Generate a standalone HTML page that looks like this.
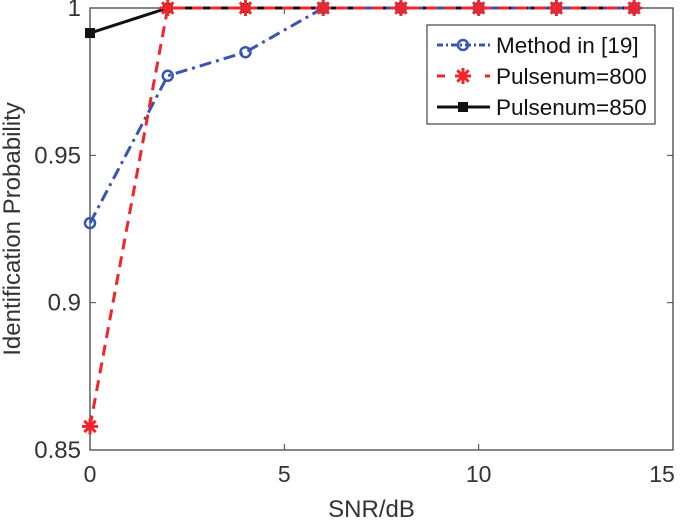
<!DOCTYPE html>
<html><head><meta charset="utf-8"><style>
body{margin:0;background:#fff;}
svg text{font-family:"Liberation Sans",sans-serif;}
</style></head><body>
<svg id="chart" width="685" height="524" xmlns="http://www.w3.org/2000/svg">
<rect x="0" y="0" width="685" height="524" fill="#fff"/>
<g id="plot"></g>
</svg>
<script>
const xs=[0,2,4,6,8,10,12,14];
const method19=[0.927,0.977,0.985,1,1,1,1,1];
const pulse800=[0.858,1,1,1,1,1,1,1];
const pulse850=[0.9915,1,1,1,1,1,1,1];
const xTicks=[0,5,10,15];
const yTicks=[0.85,0.9,0.95,1];
const yTickLabels=["0.85","0.9","0.95","1"];
const L=90,R=673,T=8,B=450;
const sx=v=>L+(v-0)/(15-0)*(R-L);
const sy=v=>B-(v-0.85)/(1-0.85)*(B-T);
const NS="http://www.w3.org/2000/svg";
const g=document.getElementById('plot');
function mk(t,a,p){const e=document.createElementNS(NS,t);for(const k in a)e.setAttribute(k,a[k]);(p||g).appendChild(e);return e;}
const box=mk('rect',{x:L,y:T,width:R-L,height:B-T,fill:'none',stroke:'#444','stroke-width':1.3});


xTicks.forEach(v=>{
 const l=mk('line',{x1:sx(v),x2:sx(v),y1:B,y2:B-6,stroke:'#444'});
 
 
 const l2=mk('line',{x1:sx(v),x2:sx(v),y1:T,y2:T+6,stroke:'#444'});
 
 
 const t=mk('text',{x:sx(v)-(v==15?11:0),y:B+32,'text-anchor':'middle','font-size':23,fill:'#333'});
 t.textContent=v;
 
 
});
yTicks.forEach((v,i)=>{
 const l=mk('line',{x1:L,x2:L+6,y1:sy(v),y2:sy(v),stroke:'#444'});
 
 
 const l2=mk('line',{x1:R,x2:R-6,y1:sy(v),y2:sy(v),stroke:'#444'});
 
 
 const t=mk('text',{x:L-9,y:sy(v)+8,'text-anchor':'end','font-size':24,fill:'#333'});
 t.textContent=yTickLabels[i];
 
 
});
const xt=mk('text',{x:(L+R)/2-10,y:517,'text-anchor':'middle','font-size':24,fill:'#333'});
xt.textContent='SNR/dB';


const yt=mk('text',{x:0,y:0,'text-anchor':'middle','font-size':24,fill:'#333',transform:`translate(20,${(T+B)/2}) rotate(-90)`});
yt.textContent='Identification Probability';


function marker(type,x,y,p,color){
 if(type=='o'){const c=mk('circle',{cx:x,cy:y,r:5,fill:'none',stroke:color,'stroke-width':2.5},p);}
 else if(type=='s'){const r=mk('rect',{x:x-4.5,y:y-4.5,width:9,height:9,fill:'#111',stroke:'#111','stroke-width':1},p);}
 else {const gg=mk('g',{},p);
  for(let a=0;a<180;a+=45){const rad=a*Math.PI/180;mk('line',{x1:x-8*Math.cos(rad),y1:y-8*Math.sin(rad),x2:x+8*Math.cos(rad),y2:y+8*Math.sin(rad),stroke:color,'stroke-width':3},gg);}}
}
function series(name,vals,color,dash,type,w){
 const sg=mk('g',{});
 
 
 const pl=mk('polyline',{points:xs.map((x,i)=>sx(x)+','+sy(vals[i])).join(' '),fill:'none',stroke:color,'stroke-width':w,'stroke-dasharray':dash},sg);
 
 
 xs.forEach((x,i)=>marker(type,sx(x),sy(vals[i]),sg,color));
}
series('series-pulsenum-850',pulse850,'#111','none','s',3);
series('series-method-19',method19,'#3a55b0','12,5,3,5','o',3);
series('series-pulsenum-800',pulse800,'#f0262a','11,7','*',3);
const lg=mk('g',{});


mk('rect',{x:427,y:25,width:228,height:99,fill:'#fff',stroke:'#444','stroke-width':1.2},lg);
const items=[['Method in [19]','#3a55b0','6,3,2,3','o'],['Pulsenum=800','#f0262a','8,16','*'],['Pulsenum=850','#111','none','s']];
items.forEach((it,i)=>{
 const y=45+i*31;
 const e=mk('g',{},lg);
 
 
 mk('line',{x1:437,x2:490,y1:y,y2:y,stroke:it[1],'stroke-width':3,'stroke-dasharray':it[2]},e);
 marker(it[3],463,y,e,it[1]);
 const t=mk('text',{x:496,y:y+8,'font-size':22.5,fill:'#111'},e);
 t.textContent=it[0];
});
</script>
</body></html>
